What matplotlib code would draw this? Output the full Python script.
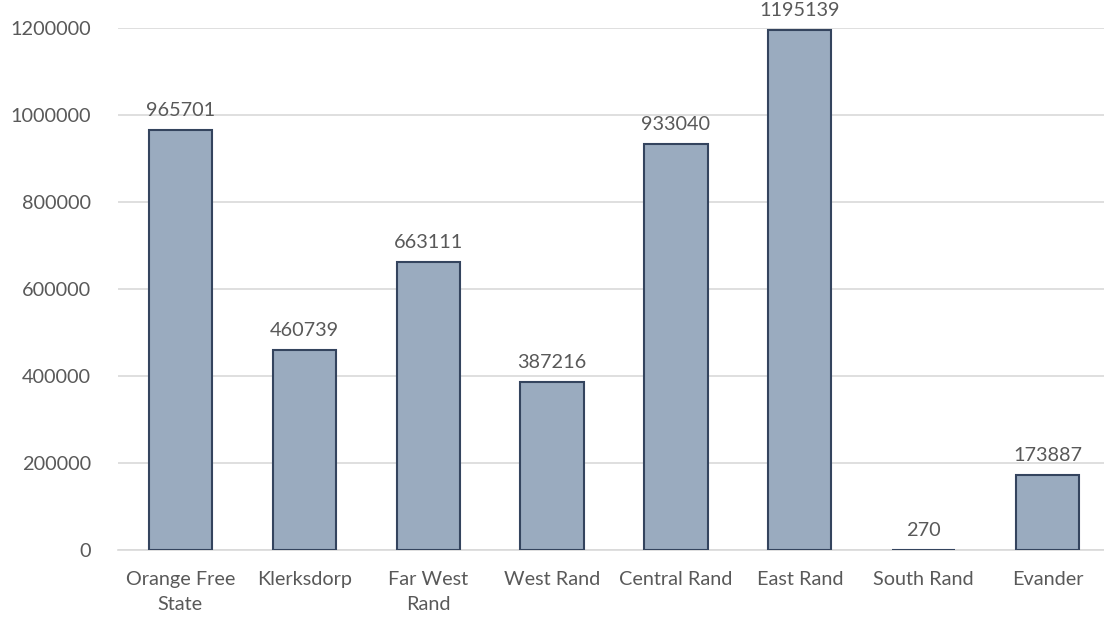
import matplotlib
matplotlib.use("Agg")
import matplotlib.pyplot as plt

categories = ["Orange Free\nState", "Klerksdorp", "Far West\nRand", "West Rand",
              "Central Rand", "East Rand", "South Rand", "Evander"]
values = [965701, 460739, 663111, 387216, 933040, 1195139, 270, 173887]
yticks = [0, 200000, 400000, 600000, 800000, 1000000, 1200000]

plt.rcParams['font.family'] = ['Lato', 'DejaVu Sans']
txt = '#595959'
fs = 14.3

fig = plt.figure(figsize=(11.04, 6.21), dpi=100)
ax = fig.add_axes([0.1073, 0.114, 0.8977, 0.841])
x = range(len(categories))
ax.bar(x, values, width=0.51, color='#9AABBF', edgecolor='#34445E', linewidth=1.5, zorder=3)
for i, v in enumerate(values):
    ax.text(i, v + 25000, str(v), ha='center', va='bottom', fontsize=fs, color=txt)
ax.set_xlim(-0.5, len(categories) - 0.5)
ax.set_ylim(0, 1200000)
ax.set_yticks(yticks)
ax.set_yticklabels([str(t) for t in yticks], fontsize=fs, color=txt)
ax.set_xticks(list(x))
ax.set_xticklabels(categories, fontsize=fs, color=txt, linespacing=1.6)
ax.tick_params(axis='y', length=0, pad=20)
ax.tick_params(axis='x', length=0, pad=15)
ax.grid(axis='y', color='#D9D9D9', linewidth=1.2, zorder=0)
for s in ['top', 'right', 'left']:
    ax.spines[s].set_visible(False)
ax.spines['bottom'].set_color('#D9D9D9')
ax.spines['bottom'].set_linewidth(1.2)
fig.savefig('out.png', dpi=100, facecolor='white')
